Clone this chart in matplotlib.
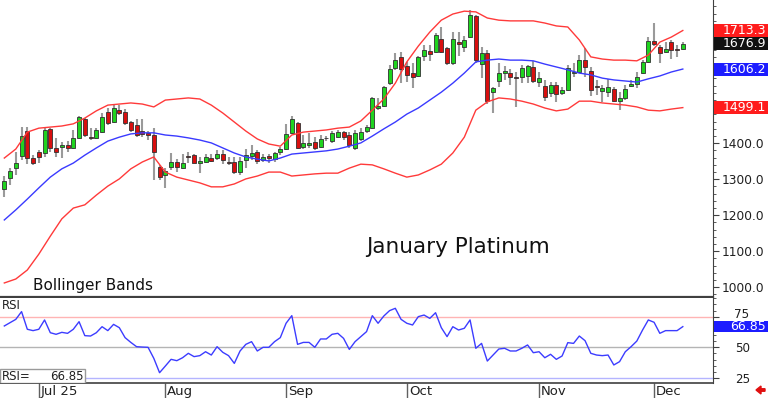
# January Platinum daily candles with Bollinger Bands and RSI
import numpy as np
import matplotlib.pyplot as plt
from matplotlib.patches import Rectangle, FancyArrow
from matplotlib.ticker import MultipleLocator
from matplotlib.transforms import IdentityTransform

opens = [1273, 1304, 1331, 1365, 1434, 1359, 1376, 1373, 1440, 1387,
         1390, 1395, 1387, 1415, 1467, 1417, 1415, 1431, 1487, 1459,
         1492, 1487, 1459, 1451, 1434, 1429, 1423, 1334, 1312, 1334,
         1348, 1331, 1365, 1367, 1345, 1348, 1359, 1359, 1370, 1348,
         1348, 1320, 1354, 1365, 1376, 1354, 1365, 1356, 1376, 1384,
         1429, 1456, 1390, 1395, 1404, 1390, 1415, 1406, 1417, 1431,
         1423, 1387, 1412, 1434, 1442, 1498, 1503, 1567, 1609, 1640,
         1615, 1595, 1587, 1642, 1656, 1654, 1690, 1665, 1623, 1681,
         1667, 1695, 1754, 1620, 1651, 1542, 1573, 1595, 1595, 1584,
         1584, 1587, 1612, 1570, 1559, 1540, 1562, 1540, 1548, 1595,
         1598, 1631, 1601, 1559, 1545, 1542, 1551, 1517, 1526, 1559,
         1565, 1595, 1626, 1684, 1667, 1654, 1681, 1662, 1662]
highs = [1309, 1331, 1376, 1445, 1445, 1367, 1381, 1445, 1442, 1415,
         1404, 1406, 1437, 1476, 1470, 1442, 1442, 1484, 1498, 1506,
         1506, 1495, 1462, 1467, 1467, 1434, 1442, 1340, 1331, 1373,
         1356, 1370, 1376, 1370, 1362, 1370, 1370, 1381, 1381, 1362,
         1362, 1362, 1384, 1395, 1381, 1370, 1370, 1376, 1390, 1454,
         1476, 1459, 1423, 1429, 1417, 1423, 1420, 1434, 1437, 1434,
         1431, 1437, 1442, 1451, 1529, 1526, 1559, 1617, 1651, 1654,
         1626, 1623, 1642, 1673, 1673, 1706, 1723, 1667, 1709, 1709,
         1698, 1770, 1756, 1667, 1659, 1556, 1623, 1615, 1606, 1598,
         1617, 1617, 1629, 1598, 1576, 1570, 1570, 1556, 1617, 1623,
         1645, 1665, 1612, 1576, 1562, 1579, 1556, 1542, 1562, 1576,
         1598, 1631, 1695, 1734, 1673, 1681, 1687, 1673, 1681]
lows = [1251, 1284, 1312, 1354, 1342, 1340, 1345, 1362, 1376, 1362,
        1359, 1376, 1384, 1412, 1417, 1409, 1412, 1429, 1451, 1456,
        1479, 1451, 1431, 1417, 1417, 1409, 1298, 1298, 1276, 1326,
        1320, 1329, 1345, 1345, 1317, 1345, 1348, 1354, 1342, 1340,
        1315, 1312, 1331, 1354, 1342, 1348, 1345, 1348, 1367, 1381,
        1426, 1384, 1384, 1387, 1381, 1387, 1406, 1401, 1415, 1409,
        1387, 1381, 1406, 1429, 1440, 1492, 1501, 1562, 1604, 1567,
        1570, 1554, 1584, 1629, 1629, 1651, 1651, 1617, 1617, 1642,
        1654, 1692, 1623, 1581, 1509, 1484, 1556, 1576, 1562, 1501,
        1567, 1567, 1567, 1556, 1517, 1529, 1515, 1534, 1545, 1584,
        1595, 1584, 1531, 1534, 1515, 1529, 1515, 1492, 1520, 1556,
        1554, 1592, 1623, 1670, 1623, 1651, 1634, 1640, 1659]
closes = [1295, 1323, 1345, 1420, 1359, 1345, 1362, 1437, 1387, 1376,
          1395, 1387, 1415, 1473, 1423, 1415, 1437, 1473, 1456, 1498,
          1484, 1456, 1437, 1423, 1426, 1423, 1376, 1306, 1323, 1348,
          1334, 1345, 1362, 1345, 1351, 1362, 1351, 1370, 1354, 1345,
          1320, 1351, 1367, 1373, 1351, 1362, 1359, 1373, 1384, 1426,
          1467, 1387, 1401, 1401, 1387, 1412, 1416, 1429, 1431, 1417,
          1395, 1429, 1431, 1445, 1526, 1503, 1556, 1606, 1631, 1606,
          1590, 1584, 1640, 1659, 1648, 1701, 1654, 1623, 1690, 1676,
          1687, 1756, 1631, 1651, 1517, 1554, 1595, 1601, 1584, 1581,
          1609, 1615, 1573, 1581, 1529, 1562, 1537, 1548, 1609, 1598,
          1631, 1612, 1548, 1556, 1554, 1556, 1517, 1526, 1551, 1565,
          1584, 1626, 1684, 1676, 1651, 1662, 1659, 1659, 1676.9]

rsi = [67.4, 70.1, 72.8, 79.1, 64.7, 63.6, 64.7, 72.3, 61.9, 60.6,
       62.2, 61.4, 64.7, 70.9, 59.5, 59.2, 61.9, 66.8, 63.6, 68.7,
       66.0, 57.9, 54.0, 50.5, 50.2, 50.0, 41.0, 29.3, 34.7, 40.2,
       39.1, 41.5, 45.1, 42.4, 43.2, 46.4, 43.7, 50.5, 45.9, 43.2,
       36.9, 47.0, 52.4, 54.6, 47.0, 50.0, 50.0, 54.6, 57.9, 69.6,
       75.8, 52.4, 54.0, 54.0, 50.0, 56.8, 56.8, 60.6, 61.4, 57.3,
       48.3, 54.6, 58.7, 62.8, 75.8, 69.6, 75.5, 79.9, 81.8, 72.8,
       69.6, 68.2, 75.0, 76.3, 73.6, 78.2, 66.0, 58.7, 66.8, 64.1,
       65.5, 72.3, 49.2, 53.2, 38.8, 43.7, 48.6, 49.2, 47.0, 47.0,
       49.2, 51.9, 45.6, 46.4, 41.5, 44.3, 40.2, 42.9, 53.8, 53.2,
       59.2, 55.4, 45.1, 43.7, 43.2, 43.7, 35.6, 38.3, 46.4, 50.5,
       55.1, 64.1, 72.3, 70.4, 61.4, 63.6, 63.6, 63.6, 66.85]

# Bollinger bands, read every second session
upper = [1359, 1384, 1431, 1442, 1445, 1448, 1454, 1470, 1490, 1506,
         1509, 1512, 1509, 1501, 1520, 1523, 1526, 1523, 1506, 1484,
         1459, 1434, 1412, 1398, 1392, 1423, 1431, 1434, 1437, 1442,
         1445, 1462, 1492, 1523, 1567, 1626, 1670, 1709, 1742, 1759,
         1767, 1765, 1748, 1742, 1740, 1740, 1740, 1734, 1726, 1723,
         1687, 1640, 1634, 1631, 1631, 1629, 1645, 1681, 1695, 1713.3]
middle = [1187, 1215, 1245, 1276, 1306, 1329, 1345, 1367, 1387, 1406,
          1417, 1426, 1429, 1429, 1423, 1420, 1415, 1409, 1401, 1387,
          1373, 1362, 1356, 1351, 1359, 1370, 1373, 1376, 1379, 1384,
          1392, 1401, 1420, 1440, 1459, 1481, 1498, 1520, 1542, 1567,
          1595, 1626, 1631, 1634, 1631, 1631, 1629, 1620, 1612, 1604,
          1595, 1590, 1581, 1576, 1573, 1570, 1579, 1587, 1598, 1606.2]
lower = [1012, 1023, 1048, 1092, 1142, 1190, 1220, 1229, 1256, 1281,
         1301, 1329, 1348, 1362, 1320, 1306, 1298, 1290, 1279, 1279,
         1287, 1301, 1309, 1320, 1320, 1309, 1312, 1315, 1317, 1317,
         1331, 1342, 1340, 1329, 1317, 1306, 1312, 1326, 1342, 1373,
         1417, 1492, 1515, 1526, 1523, 1517, 1509, 1498, 1490, 1495,
         1517, 1517, 1512, 1509, 1506, 1501, 1492, 1490, 1495, 1499.1]

month_pos = [6, 28, 49, 70, 93, 113]
month_labels = ['Jul 25', 'Aug', 'Sep', 'Oct', 'Nov', 'Dec']

o = np.array(opens, dtype=float)
h = np.array(highs, dtype=float)
l = np.array(lows, dtype=float)
c = np.array(closes, dtype=float)
x = np.arange(len(c))
bx = np.arange(0, len(c), 2)

W, H = 768, 398
fig = plt.figure(figsize=(W / 100, H / 100), dpi=100)
ax1 = fig.add_axes([0, 1 - 297 / H, 713 / W, 297 / H])
ax2 = fig.add_axes([0, 1 - 383 / H, 713 / W, 85 / H])

axis_col = '#404040'

# ---- price panel
ax1.vlines(x, l, h, color='#9a9a9a', lw=1.5, zorder=2)
up = c >= o
ax1.bar(x, np.maximum(np.abs(c - o), 1.0), bottom=np.minimum(o, c), width=0.7,
        color=np.where(up, '#1fd41f', '#d80f0f'), edgecolor='#303030',
        linewidth=0.6, zorder=3)
ax1.plot(bx, upper, color='#ff3a3a', lw=1, zorder=4)
ax1.plot(bx, lower, color='#ff3a3a', lw=1, zorder=4)
ax1.plot(bx, middle, color='#3a3aff', lw=1, zorder=4)

ax1.set_xlim(-0.75, 123.25)
ax1.set_ylim(973, 1798)
for s in ['top', 'left']:
    ax1.spines[s].set_visible(False)
ax1.spines['right'].set_color(axis_col)
ax1.spines['bottom'].set_color(axis_col)
ax1.spines['bottom'].set_linewidth(1.6)
ax1.set_xticks([])
ax1.yaxis.tick_right()
ax1.set_yticks([1000, 1100, 1200, 1300, 1400, 1500, 1600, 1700])
ax1.set_yticklabels(['1000.0', '1100.0', '1200.0', '1300.0', '1400.0', '', '', ''])
ax1.yaxis.set_minor_locator(MultipleLocator(20))
ax1.tick_params(axis='y', which='major', length=4, color=axis_col, pad=2,
                labelsize=8.8, labelcolor='#202020')
ax1.tick_params(axis='y', which='minor', length=2, color=axis_col)


def value_box(ax, val, txt, face, half):
    tr = ax.get_yaxis_transform()
    ax.add_patch(Rectangle((1.0015, val - half), 0.08, 2 * half, transform=tr,
                           facecolor=face, edgecolor='none', clip_on=False, zorder=6))
    ax.text(1.074, val, txt, transform=tr, ha='right', va='center', color='white',
            fontsize=9, clip_on=False, zorder=7)


value_box(ax1, upper[-1], f'{upper[-1]:.1f}', '#ff1c1c', 18)
value_box(ax1, closes[-1], f'{closes[-1]:.1f}', '#111111', 18)
value_box(ax1, middle[-1], f'{middle[-1]:.1f}', '#1c1cff', 18)
value_box(ax1, lower[-1], f'{lower[-1]:.1f}', '#ff1c1c', 18)

ax1.text(0.642, 0.168, 'January Platinum', transform=ax1.transAxes, ha='center',
         va='center', fontsize=15.5, color='#111111')
ax1.text(0.046, 0.04, 'Bollinger Bands', transform=ax1.transAxes, ha='left',
         va='center', fontsize=11, color='#111111')

# ---- RSI panel
ax2.axhline(75, color='#ffb4b4', lw=1, zorder=1)
ax2.axhline(50, color='#b4b4b4', lw=1, zorder=1)
ax2.axhline(25, color='#b4b4ff', lw=1, xmin=85 / 713, zorder=1)
ax2.plot(x, rsi, color='#3c3cff', lw=1, zorder=3)
ax2.set_xlim(-0.75, 123.25)
ax2.set_ylim(20.9, 90.2)
for s in ['top', 'left']:
    ax2.spines[s].set_visible(False)
ax2.spines['right'].set_color(axis_col)
ax2.spines['bottom'].set_color(axis_col)
ax2.spines['bottom'].set_linewidth(1.2)
ax2.yaxis.tick_right()
ax2.set_yticks([25, 50, 75])
ax2.set_yticklabels(['25', '50', ''])
ax2.yaxis.set_minor_locator(MultipleLocator(5))
ax2.tick_params(axis='y', which='major', length=4, color=axis_col, pad=12,
                labelsize=8.6, labelcolor='#202020')
ax2.tick_params(axis='y', which='minor', length=2, color=axis_col)
# the 75 label sits just above the current-value box
ax2.text(1.03, 76.8, '75', transform=ax2.get_yaxis_transform(), ha='left',
         va='center', fontsize=8.6, color='#202020', clip_on=False)
ax2.set_xticks(month_pos)
ax2.set_xticklabels([])
ax2.tick_params(axis='x', length=11, width=1, color='#606060', direction='out')
xtr = ax2.get_xaxis_transform()
for p, lab in zip(month_pos, month_labels):
    ax2.text(p + 0.35, -0.02, lab, transform=xtr, ha='left', va='top',
             fontsize=9.5, color='#202020', clip_on=False)

value_box(ax2, rsi[-1], f'{rsi[-1]:.2f}', '#1c1cff', 4.5)

ax2.text(0.002, 0.99, 'RSI', transform=ax2.transAxes, ha='left', va='top',
         fontsize=8.5, color='#202020')
ax2.add_patch(Rectangle((0, 0.0), 85 / 713, 0.165, transform=ax2.transAxes,
                        facecolor='white', edgecolor='#9a9a9a', lw=1, zorder=5))
ax2.text(0.002, 0.082, 'RSI=', transform=ax2.transAxes, ha='left', va='center',
         fontsize=8.5, color='#202020', zorder=6)
ax2.text(0.117, 0.082, f'{rsi[-1]:.2f}', transform=ax2.transAxes, ha='right',
         va='center', fontsize=8.5, color='#202020', zorder=6)

fig.add_artist(FancyArrow(765, 8, -9, 0, width=2.5, head_width=8, head_length=5,
                          length_includes_head=True, color='#e01010',
                          transform=IdentityTransform()))

fig.savefig('out.png', dpi=100)
